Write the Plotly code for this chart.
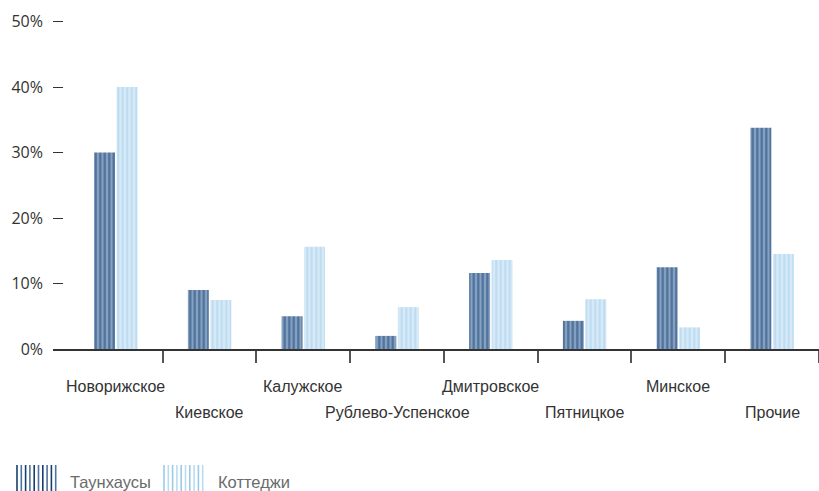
import plotly.graph_objects as go

# Доля предложения по направлениям
categories = ["Новорижское", "Киевское", "Калужское", "Рублево-Успенское",
              "Дмитровское", "Пятницкое", "Минское", "Прочие"]
townhouses = [30, 9.0, 5.0, 2.0, 11.6, 4.3, 12.5, 33.8]
cottages = [40, 7.5, 15.6, 6.4, 13.6, 7.6, 3.3, 14.5]
series_names = ["Таунхаусы", "Коттеджи"]
y_ticks = [0, 10, 20, 30, 40, 50]

W, H = 819, 491
ML, MR, MT, MB = 53, 0, 15, 142
PW, PH = W - ML - MR, H - MT - MB
Y_MAX = 51

DARK_BG, DARK_FG = "#86a2c3", "#163f6e"
LIGHT_BG, LIGHT_FG = "#d6e9f7", "#9ccae9"

LABEL_FONT = "Liberation Sans, Arial, sans-serif"

pos = list(range(len(categories)))

fig = go.Figure()
fig.add_trace(go.Bar(
    x=pos, y=townhouses, name=series_names[0],
    marker=dict(color=DARK_BG, line=dict(width=0),
                pattern=dict(shape="|", fgcolor=DARK_FG, bgcolor=DARK_BG,
                             size=4.5, solidity=0.5)),
))
fig.add_trace(go.Bar(
    x=pos, y=cottages, name=series_names[1],
    marker=dict(color=LIGHT_BG, line=dict(width=0),
                pattern=dict(shape="|", fgcolor=LIGHT_FG, bgcolor=LIGHT_BG,
                             size=4.5, solidity=0.4)),
))


def px_x(px):
    return (px - ML) / PW


def px_y(py):
    return (MT + PH - py) / PH


# Category labels in two staggered rows
annotations = []
for i, name in enumerate(categories):
    row_px = 387 if i % 2 == 0 else 412
    annotations.append(dict(
        x=i, xref="x", y=px_y(row_px), yref="paper",
        text=name, showarrow=False, xanchor="center", yanchor="middle",
        font=dict(family=LABEL_FONT, size=16, color="#333333"),
    ))

# Legend: striped swatches with captions
shapes = []
legend_items = [
    (16, [DARK_FG, "#4f73a0"], series_names[0], 68),
    (163, [LIGHT_FG, "#b9dcf3"], series_names[1], 216),
]
for x0, cols, label, tx in legend_items:
    for k in range(10):
        xx = x0 + 1 + k * 4.3
        shapes.append(dict(
            type="line", xref="paper", yref="paper",
            x0=px_x(xx), x1=px_x(xx), y0=px_y(465), y1=px_y(491),
            line=dict(color=cols[k % 2], width=1.6),
        ))
    annotations.append(dict(
        x=px_x(tx), xref="paper", y=px_y(482), yref="paper",
        text=label, showarrow=False, xanchor="left", yanchor="middle",
        font=dict(family=LABEL_FONT, size=16.5, color="#6b6b6b"),
    ))

fig.update_layout(
    width=W, height=H,
    margin=dict(l=ML, r=MR, t=MT, b=MB, pad=0),
    paper_bgcolor="white", plot_bgcolor="white",
    barmode="group", bargap=0.52, bargroupgap=0.07,
    showlegend=False,
    annotations=annotations, shapes=shapes,
    xaxis=dict(
        range=[-0.67, len(categories) - 0.5],
        tickmode="array", tickvals=[i + 0.5 for i in pos],
        ticks="outside", ticklen=12, tickwidth=1.5, tickcolor="#555555",
        showticklabels=False, showgrid=False, zeroline=False,
        showline=True, linecolor="#333333", linewidth=1.5,
        fixedrange=True,
    ),
    yaxis=dict(
        range=[0, Y_MAX], tickmode="array", tickvals=y_ticks,
        ticktext=[f"{v}%" for v in y_ticks],
        ticks="inside", ticklen=10, tickwidth=1.4, tickcolor="#333333",
        ticklabelstandoff=9,
        tickfont=dict(family="Open Sans, sans-serif", size=16, color="#333333"),
        showgrid=False, zeroline=False, showline=False,
        fixedrange=True,
    ),
)

fig.write_html("out.html", config={"displayModeBar": False})
